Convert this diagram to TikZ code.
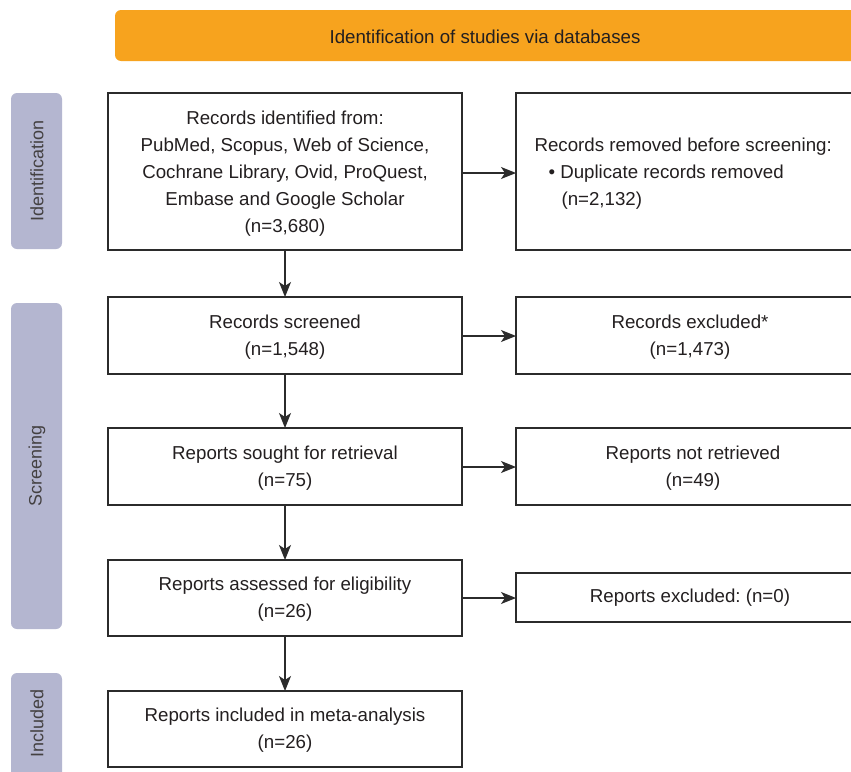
\documentclass[tikz,border=0pt]{standalone}
\usepackage{fontspec}
\setmainfont{Liberation Sans}
\usetikzlibrary{arrows.meta,positioning}
\definecolor{bannerorange}{HTML}{F7A31E}
\definecolor{sidelav}{HTML}{B4B6D0}
\definecolor{inkc}{HTML}{231F20}
\definecolor{linec}{HTML}{2B2B2B}
\tikzset{
  boxstyle/.style={draw=linec, line width=1.4pt, fill=white, inner sep=0pt, text=inkc},
  sidebar/.style={fill=sidelav, rounded corners=6pt},
  sidetext/.style={rotate=90, text=inkc!85, font=\fontsize{18}{21}\selectfont},
  flowtext/.style={text=inkc, align=center, font=\frenchspacing\fontsize{18.7}{27}\selectfont},
  conn/.style={draw=linec, line width=1.3pt, -{Stealth[length=15pt,width=12pt,inset=4pt]}}
}
\begin{document}
\frenchspacing
\begin{tikzpicture}[x=1pt,y=-1pt]
\clip (0,0) rectangle (851,771);
\fill[white] (0,0) rectangle (851,771);
% banner
\fill[bannerorange, rounded corners=6pt] (115,10) rectangle (858,61);
\node[flowtext] (banner) at (485,37) {Identification of studies via databases};
% side bars
\fill[sidebar] (11,93) rectangle (62,249);
\node[sidetext] (sideid) at (37,171) {Identification};
\fill[sidebar] (11,303) rectangle (62,629);
\node[sidetext] (sidescr) at (37,466) {Screening};
\fill[sidebar] (11,673) rectangle (62,790);
\node[sidetext] (sideinc) at (37,723) {Included};
% left boxes
\draw[boxstyle] (108,93) rectangle (462,250);
\node[flowtext] (b1) at (285,174) {Records identified from:\\PubMed, Scopus, Web of Science,\\Cochrane Library, Ovid, ProQuest,\\Embase and Google Scholar\\(n=3,680)};
\coordinate (b1s) at (285,250);
\coordinate (b1e) at (462,173);
\draw[boxstyle] (108,297) rectangle (462,374);
\node[flowtext] (b2) at (285,337) {Records screened\\(n=1,548)};
\coordinate (b2n) at (285,297);
\coordinate (b2s) at (285,374);
\coordinate (b2e) at (462,336);
\draw[boxstyle] (108,428) rectangle (462,505);
\node[flowtext] (b3) at (285,468) {Reports sought for retrieval\\(n=75)};
\coordinate (b3n) at (285,428);
\coordinate (b3s) at (285,505);
\coordinate (b3e) at (462,467);
\draw[boxstyle] (108,560) rectangle (462,636);
\node[flowtext] (b4) at (285,599) {Reports assessed for eligibility\\(n=26)};
\coordinate (b4n) at (285,560);
\coordinate (b4s) at (285,636);
\coordinate (b4e) at (462,598);
\draw[boxstyle] (108,691) rectangle (462,767);
\node[flowtext] (b5) at (285,730) {Reports included in meta-analysis\\(n=26)};
\coordinate (b5n) at (285,691);
% right boxes
\draw[boxstyle] (516,93) rectangle (870,250);
\node[flowtext, align=left, anchor=west] (r1) at (531,174) {Records removed before screening:\\\hspace*{14pt}\textbullet\ Duplicate records removed\\\hspace*{27pt}(n=2,132)};
\coordinate (r1w) at (516,173);
\draw[boxstyle] (516,297) rectangle (870,374);
\node[flowtext] (r2) at (690,337) {Records excluded*\\(n=1,473)};
\coordinate (r2w) at (516,336);
\draw[boxstyle] (516,428) rectangle (870,505);
\node[flowtext] (r3) at (693,468) {Reports not retrieved\\(n=49)};
\coordinate (r3w) at (516,467);
\draw[boxstyle] (516,573) rectangle (870,622);
\node[flowtext] (r4) at (690,598) {Reports excluded: (n=0)};
\coordinate (r4w) at (516,598);
% connectors
\draw[conn] (b1s) -- (b2n);
\draw[conn] (b2s) -- (b3n);
\draw[conn] (b3s) -- (b4n);
\draw[conn] (b4s) -- (b5n);
\draw[conn] (b1e) -- (r1w);
\draw[conn] (b2e) -- (r2w);
\draw[conn] (b3e) -- (r3w);
\draw[conn] (b4e) -- (r4w);
\end{tikzpicture}
\end{document}
